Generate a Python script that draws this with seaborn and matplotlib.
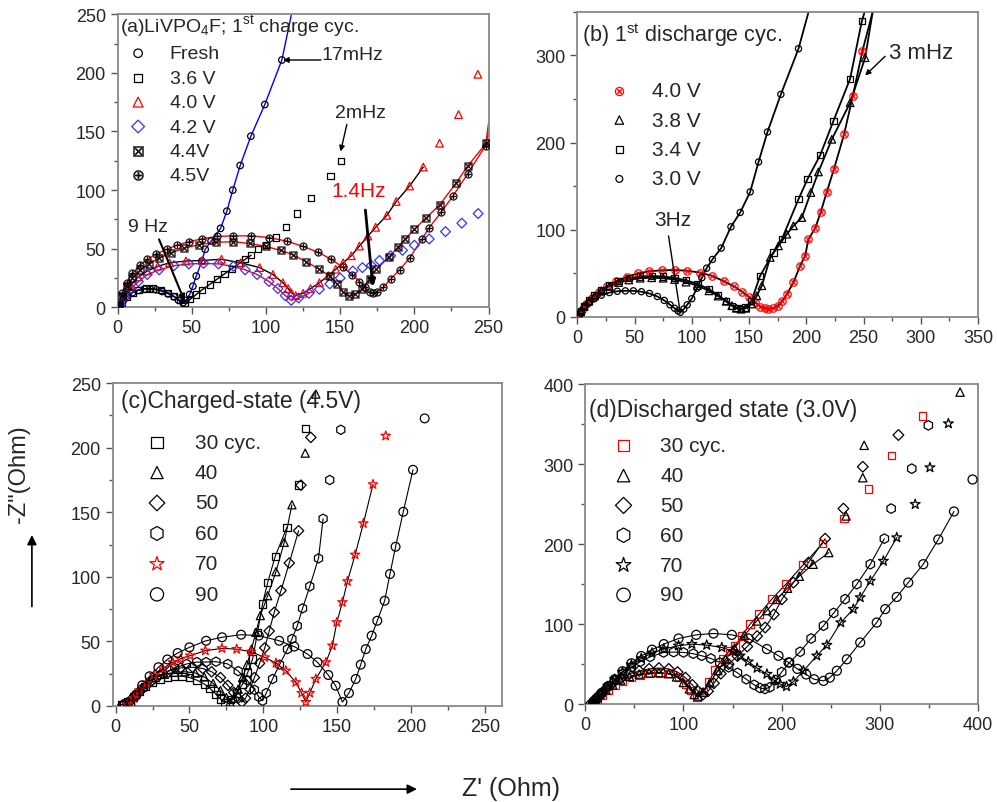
import seaborn as sns
import matplotlib.pyplot as plt
from matplotlib.ticker import MultipleLocator
from matplotlib.patches import FancyArrowPatch

# ---------------- (a) LiVPO4F, 1st charge ----------------
a_fresh_x = [2, 4, 7, 10, 14, 18, 22, 26, 30, 34, 38, 41, 44, 46, 48.5, 50.7, 53, 56.8, 59, 63,
             69.4, 73.6, 77.6, 82.6, 89.8, 99.2, 110.7]
a_fresh_y = [2, 6, 10, 12.5, 14.5, 15.5, 15.5, 15, 13.5, 11.5, 9, 6, 4, 6, 11, 18, 26.7, 39.5, 49.5, 56.6,
             67.4, 82, 100, 121, 146, 173, 211]
a_fresh_fit_end = ([117], [249])

a_36_x = [3, 6, 10, 14, 19, 24, 29, 34, 38, 42, 45, 49, 53, 57, 62, 67, 72, 77, 82, 86, 90, 94.6,
          100, 107, 113.5, 121, 130.5, 143.5, 150.5]
a_36_y = [4, 9, 12.5, 15, 16, 16, 15, 12.5, 9.5, 6, 4, 7, 11, 15, 19.5, 24, 28.5, 33, 37.5, 41, 44.5, 49.5,
          53, 59.5, 68.5, 80, 93, 112, 125]

a_40_x = [2, 5, 9, 14, 20, 27, 35, 46, 57, 70, 83, 95.7, 104.7, 111.4, 115, 117, 120, 125, 130, 136,
          142, 147, 152, 157.5, 163, 168.7, 173.9, 181.5, 187.8, 196.8, 206, 217, 229.8, 242.8]
a_40_y = [3, 11, 19, 26, 31, 35, 38, 39.5, 40, 41, 38, 33.9, 28, 21, 16, 12.5, 10, 12, 16, 21,
          27, 32.5, 38, 44, 52.3, 60.8, 68.3, 78.5, 90.3, 103.5, 119.7, 140, 164.4, 198.8]

a_42_x = [2, 5, 9, 14, 20, 28, 38, 48, 58, 68, 78, 86, 94, 102, 108, 113, 117, 122, 129, 136, 143, 150,
          158.6, 165, 171, 176.5, 184, 192, 200, 210, 221, 232, 243]
a_42_y = [2, 9, 16, 22, 28, 32, 35.5, 37, 37.5, 37, 35, 32, 28, 22, 16, 10, 6, 8, 12, 15.4, 20, 25,
          31, 33.9, 35.8, 40, 44, 48.6, 53, 58.3, 64.6, 71.8, 80]

a_44_x = [1, 3, 6, 10, 15, 21, 28, 36, 45, 55, 66, 78, 89, 100, 110, 118, 127, 136, 143, 148, 152, 156,
          160, 165, 170, 174.3, 183, 189, 194, 200, 208, 217, 228, 236, 248.4]
a_44_y = [2, 10, 18, 25, 31.5, 37, 42, 46.5, 50.5, 53.5, 55.5, 56, 54.5, 52, 48.5, 45, 39, 32.4, 26.7, 20, 13, 10,
          11, 16, 24, 32.4, 43, 51.5, 58.6, 66.5, 76.5, 87.3, 105.8, 120.6, 140]
a_44_fit_end = ([250], [150])

a_45_x = [1, 3, 6, 10, 15, 20, 26, 33, 40, 48, 57, 67, 78, 90, 102, 114, 125, 135, 144, 152, 158, 163,
          167, 170, 172, 175, 179, 184, 190, 196.8, 205, 210, 218, 226, 236, 248]
a_45_y = [2, 12, 21, 29, 36, 41, 45.5, 49.5, 53, 56, 58.5, 60.5, 61, 61, 59.5, 56.5, 52, 47, 41, 34, 28, 22,
          17, 13, 12, 13, 17, 24, 32, 42, 58, 68, 81, 95, 114, 138]
a_45_fit_end = ([250], [157])

# ---------------- (b) 1st discharge ----------------
b_40_x = [1, 4, 8, 13, 19, 26, 34, 43, 53, 63, 74, 85, 96, 107, 118, 128, 137, 144, 150, 155, 160, 164,
          167, 171, 175, 179, 183, 188.8, 194.6, 199, 201.9, 207.7, 212.7, 217.9, 224.3, 233, 240.6, 249]
b_40_y = [1.5, 8, 15, 22, 29, 35.5, 41, 46, 50, 52.5, 53.5, 54, 53, 51, 47, 41, 35, 29, 23, 17, 12, 10,
          9.2, 10, 13, 18, 26, 39.7, 58.8, 70.2, 89.3, 101.5, 120.6, 143.5, 170.2, 209.5, 253.4, 305]
b_40_fit_end = ([258], [350])

b_38_x = [1, 3, 6, 10, 15, 21, 28, 36, 45, 55, 65, 75, 85, 95, 105, 115, 123, 130, 135, 139, 143, 147,
          152.5, 156.8, 161.2, 168.5, 175.7, 183, 188.8, 196.1, 204, 210.6, 222.3, 238.3, 251.4]
b_38_y = [1, 6, 12, 18, 24, 30, 35, 39.5, 42.5, 44.5, 45, 44.5, 43, 40, 36, 30, 24, 18, 13, 10, 9, 10,
          14.9, 24.4, 35.9, 68.3, 81.6, 95, 104.6, 114.1, 142.8, 166.4, 203.8, 245.8, 297.4]
b_38_fit_end = ([258], [350])

b_34_x = [1, 3, 6, 10, 15, 21, 28, 36, 45, 55, 65, 75, 85, 95, 105, 115, 123, 130, 135, 139, 143, 147,
          152, 159.7, 171.3, 178.7, 193.2, 201, 212.1, 223.7, 238.3, 248.5]
b_34_y = [1, 7, 13, 19, 25, 31, 36, 41, 44.5, 46.5, 47, 46.5, 45, 42, 38, 32, 25, 18, 13, 10, 9, 11,
          18, 47.3, 74, 89.3, 135.1, 158, 185.5, 224.8, 273.3, 339.3]
b_34_fit_end = ([251], [350])

b_30_x = [1, 3, 6, 10, 15, 21, 28, 35, 42, 49, 56, 63, 70, 76, 81, 85, 88, 90, 93, 96, 100, 104.5, 108.8,
          113, 118, 125.7, 134.2, 142.3, 151, 158.3, 166.1, 177.8, 193.2]
b_30_y = [1, 6, 11, 16, 21, 25, 28, 29.5, 30, 30, 29, 27, 23.5, 19, 14, 10, 7, 5.4, 9, 14, 21, 33, 45,
          56, 66, 79, 103.4, 119.9, 143.5, 177.8, 212.2, 255.4, 307.7]
b_30_fit_end = ([202], [350])

# ---------------- (c) charged state (4.5 V) ----------------
c_30_x = [4, 8, 12, 16, 20, 25, 30, 35, 40, 45, 50, 55, 60, 64, 68, 71, 74, 78, 82, 86, 89.5, 92.8,
          96.1, 99.5, 103, 108.1, 116, 123.9, 128.4]
c_30_y = [1, 3, 7, 11, 15, 18.5, 21, 22.5, 23, 23, 22, 20, 17, 13.5, 9, 5.5, 2.5, 5, 10, 17, 26, 36.4,
          57, 79, 95.7, 115.9, 138.3, 171, 215]

c_40_x = [4, 8, 12, 16, 21, 27, 33, 40, 47, 54, 60, 66, 71, 75, 77.5, 80, 83, 86, 89, 92, 95, 98, 103,
          108.6, 114.2, 119.4, 128.4, 135.6]
c_40_y = [1, 3, 8, 13, 18, 22, 24.5, 26, 26.5, 25.5, 22.5, 17.5, 12, 6.5, 3, 6, 13, 22, 32, 44, 57, 70,
          85.4, 104, 126.7, 155.8, 195.8, 241.5]

c_50_x = [5, 9, 13, 18, 24, 30, 37, 44, 52, 59, 65, 71, 76, 80, 83, 85.5, 88, 91, 94, 97.5, 101, 104,
          107.4, 112, 117.6, 123.9, 125.5, 132.2]
c_50_y = [1, 3, 8, 13, 19, 24, 27.5, 29.5, 30, 29, 26.5, 22, 16, 10.5, 6, 3, 6, 13, 22, 33, 45, 58,
          72.5, 89.3, 110.7, 135.7, 171, 208]

c_60_x = [6, 10, 14, 19, 25, 32, 40, 48, 55, 61.3, 68, 76, 83, 89, 94, 97, 99.5, 102, 106.3, 111, 116.4,
          119.4, 123, 126.6, 131.5, 137.4, 140.5, 145, 152.5]
c_60_y = [1, 4, 9, 14, 20, 25, 29.5, 32.5, 34, 34, 34.3, 32.5, 27, 20, 12.5, 7, 4, 10, 20.9, 32, 44,
          51.9, 62, 75.6, 92.6, 114.3, 145, 175, 213.9]

c_70_x = [8, 12, 16, 21, 26, 32, 38.7, 44, 50.5, 60.8, 72, 82, 91.7, 101, 108.6, 115.3, 122, 126, 128.8,
          131.5, 135.6, 142.4, 146.8, 149.8, 153.6, 157, 162.2, 167.8, 174.3, 182.9]
c_70_y = [1, 6, 12, 18, 24, 29, 33.8, 36.5, 39, 42.8, 44.6, 44, 42, 37.6, 33.2, 27.3, 18.3, 10, 3,
          10, 20.9, 33.8, 46.7, 64.8, 80.3, 96.5, 117.1, 141.4, 171.6, 209.2]

c_90_x = [10, 14, 18, 23, 29, 35, 42, 50, 61.3, 72.1, 85, 97, 110.8, 121, 130, 136.7, 144, 149, 153.6,
          158, 162.6, 166, 169.4, 173.4, 177.2, 182.2, 185.8, 189.6, 194.8, 201.4, 209.3]
c_90_y = [1, 8, 16, 23, 30, 36, 41, 45.4, 50.5, 53.2, 55.2, 54.5, 50.5, 46, 40.2, 33.8, 24, 15.7, 3,
          10, 20.9, 32, 44, 54.4, 66, 81.5, 102.2, 123.3, 150.4, 182.9, 222.7]

# ---------------- (d) discharged state (3.0 V) ----------------
d_30_x = [8, 12, 17, 23, 30, 38, 47, 56, 66.2, 76, 86.5, 95, 102, 108, 113.7, 120, 126, 132.3, 140, 147,
          152.7, 159.5, 167.9, 177.1, 190, 204.3, 221.6, 241.6, 263.8, 288.3, 312, 343.3]
d_30_y = [1, 5, 11, 17, 23, 29, 33.5, 36.5, 38, 39, 38, 33.3, 25, 17, 9, 15, 28, 42.9, 57, 67,
          72.9, 85.4, 100, 112.5, 131.3, 150, 173.8, 200.8, 232, 268.8, 311, 360.4]

d_40_x = [6, 10, 15, 21, 28, 36, 45, 55, 65, 75, 85, 93, 100, 106, 111, 115, 120, 127, 135, 143, 152,
          162, 174.7, 185, 194.9, 206, 218, 232, 248, 265.6, 282.6, 284, 381.7]
d_40_y = [1, 6, 12, 18, 24, 30, 34.5, 37.5, 39, 39.5, 38, 34, 27, 19, 12, 10, 15, 27, 42, 56, 70,
          86, 104, 117, 131, 145, 160, 175, 189.6, 235.4, 283.3, 323.8, 390.4]

d_50_x = [6, 10, 15, 21, 28, 36, 45, 55, 65, 75, 85, 94, 102, 109, 115, 120, 125, 131, 138, 146, 155,
          165, 175, 183.2, 192, 200.2, 212, 227.3, 244.3, 262.9, 282.6, 318.9]
d_50_y = [1, 6, 12, 19, 26, 32, 37.5, 41.5, 44, 45, 44, 40, 33, 24, 16, 12, 16, 26, 38, 50, 60,
          72, 85, 95.8, 112, 131, 152, 177, 207, 244.6, 297, 336.7]

d_60_x = [8, 12, 17, 23, 30, 38, 47, 56, 66, 79.7, 90, 100, 110, 118.7, 128, 137, 146, 155, 164, 172,
          178, 183, 188, 194, 200, 208, 218.8, 230, 242.6, 253, 264.6, 276.6, 290.3, 304.6, 311.5,
          332.5, 349.4]
d_60_y = [1, 7, 14, 22, 30, 38, 46, 53, 59, 64.6, 65, 64.6, 63, 60.4, 57, 52, 46, 39, 31, 24,
          20, 18.8, 21, 30, 40, 52, 65.4, 82, 98, 114, 131.3, 150, 175, 207, 244.6, 294.6, 348.8]

d_70_x = [8, 12, 17, 23, 30, 38, 47, 57, 68, 80, 95, 108.6, 123.7, 139, 150, 157.7, 166, 175, 185, 192,
          198.5, 205, 212, 222.2, 235.8, 246, 260.2, 273, 280, 290.3, 303.6, 317.2, 336, 351, 369.8]
d_70_y = [1, 7, 14, 22, 31, 40, 49, 57, 64, 69, 73, 75, 73.8, 70.8, 66, 60.4, 53, 45, 37.5, 30,
          25, 22, 28, 41.6, 60.4, 73.8, 102, 118.8, 133.4, 154, 179, 208.4, 250, 296, 351]

d_90_x = [8, 12, 17, 23, 30, 38, 47, 57, 68, 80, 95, 113, 130.6, 149.3, 166.3, 185, 196.8, 207, 216,
          225, 233, 242.6, 249, 256.2, 266.4, 280, 296.8, 305.5, 317.2, 328.9, 344.2, 359.5, 375.5, 394.4]
d_90_y = [1, 7, 14, 22, 31, 41, 51, 60, 68, 75, 82, 86.6, 88.3, 86.6, 82, 68.8, 60.4, 52, 44,
          37, 31, 29, 33, 41.6, 56, 77, 102, 118.8, 134, 152, 175, 206, 241, 281]

# ---------------- style ----------------
sns.set_style('ticks')
plt.rcParams['font.family'] = ['Liberation Sans', 'DejaVu Sans']
plt.rcParams['mathtext.fontset'] = 'dejavusans'

fig = plt.figure(figsize=(9.97, 8.03), dpi=100)
ax_a = fig.add_axes([0.118, 0.616, 0.372, 0.365])
ax_b = fig.add_axes([0.579, 0.604, 0.402, 0.380])
ax_c = fig.add_axes([0.113, 0.1196, 0.391, 0.402])
ax_d = fig.add_axes([0.587, 0.122, 0.394, 0.398])


def series(ax, x, y, marker, color, label, nfit=0, fit_color='k', lw=1.0, s=30, ext=None):
    if nfit:
        fx, fy = list(x[:nfit]), list(y[:nfit])
        if ext:
            fx += ext[0]
            fy += ext[1]
        sns.lineplot(x=fx, y=fy, sort=False, estimator=None, color=fit_color, lw=lw, ax=ax)
    if marker.startswith('$'):
        sns.scatterplot(x=x, y=y, marker=marker, color=color, edgecolor=color, linewidth=0.2,
                        s=s, ax=ax, label=label, zorder=3)
    else:
        sns.scatterplot(x=x, y=y, marker=marker, facecolor='none', edgecolor=color, linewidth=0.9,
                        s=s, ax=ax, label=label, zorder=3)


# (a)
series(ax_a, a_fresh_x, a_fresh_y, 'o', 'k', 'Fresh', len(a_fresh_x), 'blue', ext=a_fresh_fit_end, s=22)
series(ax_a, a_36_x, a_36_y, 's', 'k', '3.6 V', 21, s=20)
series(ax_a, a_40_x, a_40_y, '^', 'red', '4.0 V', 31, s=30)
series(ax_a, a_42_x, a_42_y, 'D', '#3333ff', '4.2 V', 19, 'red', s=25)
series(ax_a, a_44_x, a_44_y, r'$\boxtimes$', 'k', '4.4V', len(a_44_x), 'red', ext=a_44_fit_end, s=32)
series(ax_a, a_45_x, a_45_y, r'$\oplus$', 'k', '4.5V', len(a_45_x), 'red', ext=a_45_fit_end, s=32)

# (b)
series(ax_b, b_40_x, b_40_y, r'$\otimes$', 'red', '4.0 V', len(b_40_x), lw=1.3, ext=b_40_fit_end, s=36)
series(ax_b, b_38_x, b_38_y, '^', 'k', '3.8 V', len(b_38_x), lw=1.3, ext=b_38_fit_end, s=30)
series(ax_b, b_34_x, b_34_y, 's', 'k', '3.4 V', len(b_34_x), lw=1.3, ext=b_34_fit_end, s=20)
series(ax_b, b_30_x, b_30_y, 'o', 'k', '3.0 V', len(b_30_x), lw=1.3, ext=b_30_fit_end, s=20)

# (c)
series(ax_c, c_30_x, c_30_y, 's', 'k', '30 cyc.', 27, lw=0.8, s=28)
series(ax_c, c_40_x, c_40_y, '^', 'k', '40', 26, lw=0.8, s=34)
series(ax_c, c_50_x, c_50_y, 'D', 'k', '50', 26, lw=0.8, s=28)
series(ax_c, c_60_x, c_60_y, 'h', 'k', '60', 27, lw=0.8, s=45)
series(ax_c, c_70_x, c_70_y, '*', 'red', '70', 29, lw=0.8, s=50)
series(ax_c, c_90_x, c_90_y, 'o', 'k', '90', 30, lw=0.8, s=40)

# (d)
series(ax_d, d_30_x, d_30_y, 's', 'red', '30 cyc.', 28, lw=0.8, s=30)
series(ax_d, d_40_x, d_40_y, '^', 'k', '40', 29, lw=0.8, s=36)
series(ax_d, d_50_x, d_50_y, 'D', 'k', '50', 29, lw=0.8, s=30)
series(ax_d, d_60_x, d_60_y, 'h', 'k', '60', 34, lw=0.8, s=48)
series(ax_d, d_70_x, d_70_y, '*', 'k', '70', 32, lw=0.8, s=55)
series(ax_d, d_90_x, d_90_y, 'o', 'k', '90', 33, lw=0.8, s=42)

limits = {ax_a: ((0, 250), (0, 250), 50, 25, 50, 25),
          ax_b: ((0, 350), (0, 350), 50, 25, 100, 50),
          ax_c: ((-2, 262), (0, 250), 50, 25, 50, 25),
          ax_d: ((0, 400), (0, 400), 100, 50, 100, 50)}
for ax, (xl, yl, xM, xm, yM, ym) in limits.items():
    ax.set_xlim(*xl)
    ax.set_ylim(*yl)
    ax.xaxis.set_major_locator(MultipleLocator(xM))
    ax.xaxis.set_minor_locator(MultipleLocator(xm))
    ax.yaxis.set_major_locator(MultipleLocator(yM))
    ax.yaxis.set_minor_locator(MultipleLocator(ym))
    ax.set_xlabel('')
    ax.set_ylabel('')
    ax.tick_params(which='major', direction='out', length=5, width=1, labelsize=13, color='#555555')
    ax.tick_params(which='minor', direction='out', length=3, width=1, color='#555555')
    for sp in ax.spines.values():
        sp.set_color('#888888')
        sp.set_linewidth(1.3)

legend_kw = dict(loc='upper left', frameon=False, borderpad=0, borderaxespad=0, handlelength=1.0)
ax_a.legend(bbox_to_anchor=(0.029, 0.896), fontsize=14, labelspacing=0.35, handletextpad=1.13,
            markerscale=1.3, **legend_kw)
ax_b.legend(bbox_to_anchor=(0.079, 0.773), fontsize=15, labelspacing=0.5, handletextpad=1.07,
            markerscale=1.1, **legend_kw)
ax_c.legend(bbox_to_anchor=(0.087, 0.847), fontsize=15, labelspacing=0.55, handletextpad=1.31,
            markerscale=1.5, **legend_kw)
ax_d.legend(bbox_to_anchor=(0.071, 0.838), fontsize=15, labelspacing=0.52, handletextpad=1.26,
            markerscale=1.5, **legend_kw)

ax_a.text(0.005, 0.96, r'(a)LiVPO$_\mathregular{4}$F; 1$^\mathregular{st}$ charge cyc.',
          transform=ax_a.transAxes, va='center', fontsize=14)
ax_b.text(0.012, 0.928, r'(b) 1$^\mathregular{st}$ discharge cyc.', transform=ax_b.transAxes,
          va='center', fontsize=15.5)
ax_c.text(0.022, 0.945, '(c)Charged-state (4.5V)', transform=ax_c.transAxes, va='center', fontsize=16.5)
ax_d.text(0.009, 0.922, '(d)Discharged state (3.0V)', transform=ax_d.transAxes, va='center', fontsize=16.5)

# annotations (a)
arrow = dict(arrowstyle='-|>', color='k', lw=1.0, mutation_scale=8, shrinkA=0, shrinkB=0)
ax_a.text(137.5, 216, '17mHz', fontsize=14, va='center', ha='left')
ax_a.annotate('', xy=(111.5, 211), xytext=(137, 211), arrowprops=arrow)
ax_a.text(163.7, 166.4, '2mHz', fontsize=14, va='center', ha='center')
ax_a.annotate('', xy=(150.3, 133), xytext=(154.5, 156), arrowprops=arrow)
ax_a.text(162.6, 100, '1.4Hz', fontsize=15, va='center', ha='center', color='red')
ax_a.annotate('', xy=(172, 17.7), xytext=(167, 83),
              arrowprops=dict(arrowstyle='-|>', color='k', lw=2, mutation_scale=10, shrinkA=0, shrinkB=0))
ax_a.text(20.4, 68.9, '9 Hz', fontsize=14, va='center', ha='center')
ax_a.annotate('', xy=(45.1, 5.4), xytext=(27.9, 58),
              arrowprops=dict(arrowstyle='-|>', color='k', lw=1.5, mutation_scale=9, shrinkA=0, shrinkB=0))

# annotations (b)
ax_b.text(83.5, 112.2, '3Hz', fontsize=15, va='center', ha='center')
ax_b.annotate('', xy=(89.9, 5.4), xytext=(79.7, 93),
              arrowprops=dict(arrowstyle='-', color='k', lw=1.0, shrinkA=0, shrinkB=0))
ax_b.text(300, 303, '3 mHz', fontsize=16, va='center', ha='center')
ax_b.annotate('', xy=(251.4, 277), xytext=(268.8, 299), arrowprops=arrow)

# shared axis labels
fig.text(0.019, 0.41, '-Z"(Ohm)', rotation=90, fontsize=17, ha='center', va='center')
fig.add_artist(FancyArrowPatch((0.032, 0.240), (0.032, 0.336), transform=fig.transFigure,
                               arrowstyle='-|>', mutation_scale=14, lw=1.2, color='k'))
fig.text(0.463, 0.0175, "Z' (Ohm)", fontsize=18, ha='left', va='center')
fig.add_artist(FancyArrowPatch((0.289, 0.016), (0.421, 0.016), transform=fig.transFigure,
                               arrowstyle='-|>', mutation_scale=14, lw=1.2, color='k'))

fig.savefig('out.png', dpi=100)
